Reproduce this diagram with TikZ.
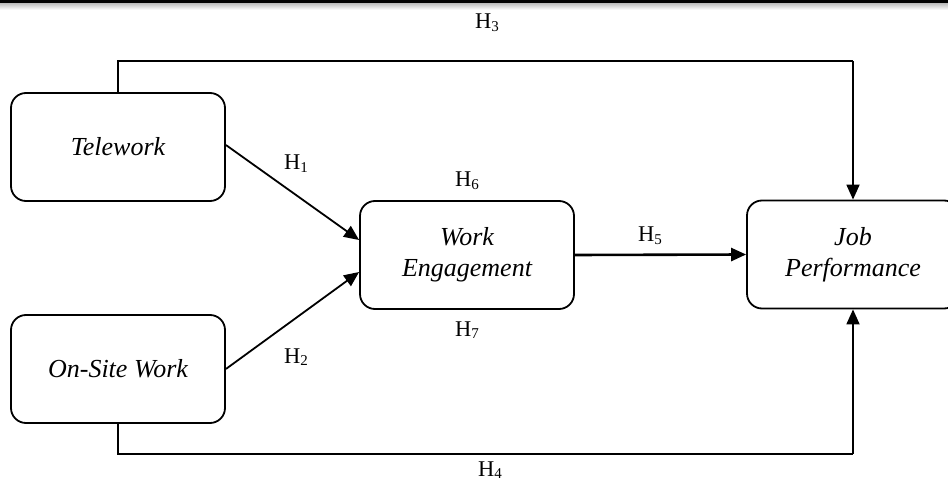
\documentclass[tikz,border=0pt]{standalone}
\usepackage{fontspec}
\setmainfont{Liberation Serif}
\usetikzlibrary{arrows.meta,calc}
\tikzset{
  box/.style={draw, line width=1.8pt, rounded corners=15pt, minimum width=214pt, minimum height=108pt,
    align=center, inner sep=0pt, font=\fontsize{26}{31}\selectfont\itshape},
  conn/.style={line width=1.8pt, -{Triangle[length=15pt,width=13pt]}},
  hlab/.style={anchor=base west, inner sep=0pt, font=\fontsize{22.5}{22.5}\selectfont}
}
\newcommand{\hyp}[1]{H\raisebox{-0.13em}{\fontsize{15}{15}\selectfont #1}}
\begin{document}
\begin{tikzpicture}[x=1pt,y=-1pt]
\useasboundingbox (0,0) rectangle (948,481);
\shade[top color=gray!55, bottom color=white] (0,3) rectangle (948,10);
\fill[black] (0,0) rectangle (948,3);
\begin{scope}
\clip (0,0) rectangle (948,481);
\node[box] (tw) at (118,147) {Telework};
\node[box] (os) at (118,369) {On-Site Work};
\node[box] (we) at (467,255) {Work\\Engagement};
\node[box, minimum width=212pt] (jp) at (853,254.5) {Job\\Performance};
\end{scope}
\coordinate (c3a) at (118,61);
\coordinate (c3b) at (853,61);
\coordinate (c4a) at (118,454);
\coordinate (c4b) at (853,454);
\draw[conn] ($(tw.east)+(0,-2)$) -- ($(we.west)+(0,-15)$);
\draw[conn] (os.east) -- ($(we.west)+(0,17)$);
\draw[conn, line width=2.6pt] (we.east) -- (jp.west);
\draw[conn, -] (tw.north -| c3a) -- (c3a) -- (c3b);
\draw[conn] (c3b) -- (jp.north);
\draw[conn, -] (os.south -| c4a) -- (c4a) -- (c4b);
\draw[conn] (c4b) -- (jp.south);
\node[hlab] (h3) at (475,29) {\hyp{3}};
\node[hlab] (h1) at (284,170) {\hyp{1}};
\node[hlab] (h6) at (455,187) {\hyp{6}};
\node[hlab] (h5) at (638,242) {\hyp{5}};
\node[hlab] (h7) at (455,336) {\hyp{7}};
\node[hlab] (h2) at (284,363) {\hyp{2}};
\node[hlab] (h4) at (478,476) {\hyp{4}};
\end{tikzpicture}
\end{document}
